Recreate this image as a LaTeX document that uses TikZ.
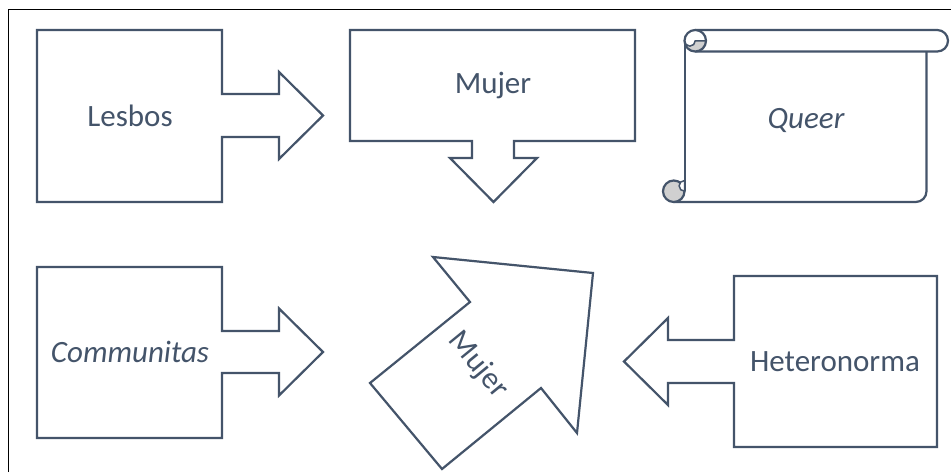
\documentclass[tikz,border=0pt]{standalone}
\usepackage{fontspec}
\setmainfont{Carlito}
\definecolor{slate}{HTML}{44546A}
\definecolor{curlgray}{HTML}{D0D0D0}
\begin{document}
\begin{tikzpicture}[x=1pt,y=-1pt,
  shp/.style={draw=slate, line width=2.2pt, line join=miter},
  lbl/.style={text=slate, font=\fontsize{31}{37}\selectfont, inner sep=0pt, anchor=center}]
\useasboundingbox (0,0) rectangle (951,472);
\fill[white] (0,0) rectangle (951,472);
% outer frame
\draw[black, line width=1pt] (8,472) -- (8,9) -- (951,9);
% Lesbos
\draw[shp] (37,30) -- (222,30) -- (222,94) -- (279,94) -- (279,72) -- (323,115.5)
  -- (279,159) -- (279,137) -- (222,137) -- (222,202) -- (37,202) -- cycle;
\node[lbl] (lesbos) at (130,116) {Lesbos};
% Mujer (top)
\draw[shp] (350,30) -- (635,30) -- (635,141) -- (514,141) -- (514,158) -- (537,158)
  -- (493.5,202) -- (450,158) -- (472,158) -- (472,141) -- (350,141) -- cycle;
\node[lbl] (mujer1) at (493,85) {Mujer};
% Queer scroll
\draw[shp] (685,40.75) -- (685,191.25);
\draw[shp] (673.75,202) -- (915.75,202) arc[start angle=90, end angle=0, radius=10.75] -- (926.5,51.5);
\draw[shp] (695.25,30) -- (937.25,30) arc[start angle=270, end angle=450, radius=10.75] -- (695.25,51.5);
\fill[white] (695.25,40.75) circle (10.75);
\fill[curlgray] (706,40.75) arc[start angle=0, end angle=180, radius=10.75]
  arc[start angle=180, end angle=0, radius=5.375] -- cycle;
\draw[shp, line width=1.5pt] (684.5,40.75) arc[start angle=180, end angle=0, radius=5.375] -- (706,40.75);
\draw[shp] (695.25,40.75) circle (10.75);
\filldraw[shp, fill=curlgray] (673.75,191.25) circle (10.75);
\filldraw[shp, fill=white, line width=1.5pt] (684.5,180.5) arc[start angle=270, end angle=90, radius=5.375] -- cycle;
\node[lbl, font=\fontsize{31}{37}\selectfont\itshape] (queer) at (806,120) {Queer};
% Communitas
\draw[shp] (37,267) -- (222,267) -- (222,331) -- (279,331) -- (279,308.5) -- (323,352)
  -- (279,395.5) -- (279,373) -- (222,373) -- (222,438) -- (37,438) -- cycle;
\node[lbl, font=\fontsize{31}{37}\selectfont\itshape] (communitas) at (130,352) {Communitas};
% Mujer (rotated arrow)
\draw[shp] (442,469) -- (370,383) -- (470,302) -- (433,257) -- (593,273) -- (577,433)
  -- (541,388) -- cycle;
\node[lbl, rotate=-50.7] (mujer2) at (478,365) {Mujer};
% Heteronorma
\draw[shp] (937,276) -- (734,276) -- (734,340) -- (668,340) -- (668,318) -- (624,361.5)
  -- (668,405) -- (668,383) -- (734,383) -- (734,447) -- (937,447) -- cycle;
\node[lbl] (hetero) at (835,362) {Heteronorma};
\end{tikzpicture}
\end{document}
